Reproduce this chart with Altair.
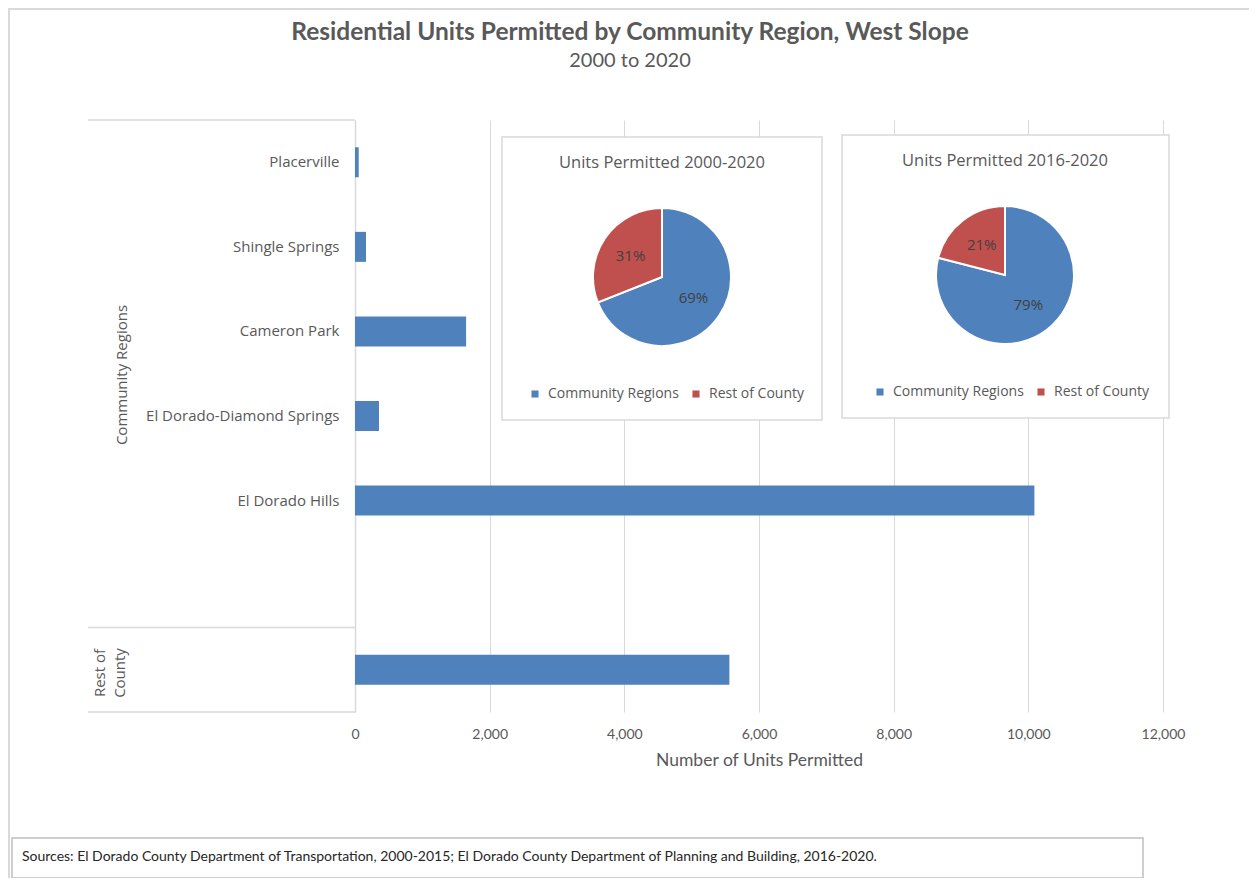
import altair as alt
import pandas as pd

# ---------------- data ----------------
regions = ["Placerville", "Shingle Springs", "Cameron Park",
           "El Dorado-Diamond Springs", "El Dorado Hills", "Rest of County"]
units = [55, 163, 1650, 356, 10090, 5560]
gap_slot = "(gap)"
y_order = regions[:5] + [gap_slot] + ["Rest of County"]
x_ticks = [0, 2000, 4000, 6000, 8000, 10000, 12000]

pie_categories = ["Community Regions", "Rest of County"]
pie1_share = [69, 31]
pie2_share = [79, 21]
pie_colors = ["#4F81BD", "#C0504D"]

title_text = "Residential Units Permitted by Community Region, West Slope"
subtitle_text = "2000 to 2020"
pie1_title = "Units Permitted 2000-2020"
pie2_title = "Units Permitted 2016-2020"
group_labels = ["Community Regions", "Rest of County"]
source_text = ("Sources:  El Dorado County Department of Transportation, 2000-2015; "
               "El Dorado County Department of Planning and Building, 2016-2020.")

bar_df = pd.DataFrame({"region": regions, "units": units})
pie1_df = pd.DataFrame({"cat_a": pie_categories, "share": pie1_share,
                        "idx": [0, 1], "label": [f"{v}%" for v in pie1_share]})
pie2_df = pd.DataFrame({"cat_b": pie_categories, "share": pie2_share,
                        "idx": [0, 1], "label": [f"{v}%" for v in pie2_share]})
one = pd.DataFrame({"k": [0]})

GRAY = "#595959"
LINE = "#D9D9D9"
W, H = 808, 592

y_scale = alt.Scale(domain=y_order, paddingInner=0, paddingOuter=0)

# ---------------- bar chart ----------------
bars = alt.Chart(bar_df).mark_bar(color="#4F81BD", size=30).encode(
    x=alt.X("units:Q",
            scale=alt.Scale(domain=[0, 12000], nice=False),
            axis=alt.Axis(values=x_ticks, format=",.0f", grid=True, gridColor=LINE,
                          gridWidth=1, domain=False, ticks=False, labelPadding=15,
                          labelFlush=False,
                          labelFont="Lato", labelFontSize=14, labelColor=GRAY,
                          title="Number of Units Permitted", titleFont="Lato",
                          titleFontSize=17.5, titleFontWeight="normal", titleColor=GRAY,
                          titlePadding=10)),
    y=alt.Y("region:N", scale=y_scale,
            axis=alt.Axis(title=None, ticks=False, domainColor=LINE, domainWidth=1.5,
                          labelPadding=16, labelFont="Open Sans", labelFontSize=15,
                          labelColor=GRAY, labelLimit=300,
                          labelExpr=f"(datum.value == 'Rest of County' || datum.value == '{gap_slot}') ? '' : datum.value")),
)

# category group separators (left of axis), positioned via the band scale
sep_top = alt.Chart(pd.DataFrame({"region": ["Placerville", "Rest of County"]})).mark_rule(
    color=LINE, strokeWidth=1.5).encode(
    y=alt.Y("region:N", scale=y_scale, bandPosition=0),
    x=alt.value(-267), x2=alt.value(0))
sep_bottom = alt.Chart(pd.DataFrame({"region": ["Rest of County"]})).mark_rule(
    color=LINE, strokeWidth=1.5).encode(
    y=alt.Y("region:N", scale=y_scale, bandPosition=1),
    x=alt.value(-267), x2=alt.value(0))

grp1 = alt.Chart(pd.DataFrame({"t": [group_labels[0]]})).mark_text(
    angle=270, font="Open Sans", fontSize=15, color=GRAY, align="center", baseline="middle"
).encode(text="t:N", x=alt.value(-233), y=alt.value(255))
grp2 = alt.Chart(pd.DataFrame({"t": [["Rest of", "County"]]})).mark_text(
    angle=270, font="Open Sans", fontSize=15, color=GRAY, align="center",
    baseline="middle", lineHeight=20
).encode(text="t", x=alt.value(-255), y=alt.value(553))

# ---------------- titles / frame ----------------
frame_left = alt.Chart(one).mark_rule(color=LINE, strokeWidth=2).encode(
    x=alt.value(-346), y=alt.value(-112), y2=alt.value(758 + 112))
frame_top = alt.Chart(one).mark_rule(color=LINE, strokeWidth=2).encode(
    x=alt.value(-347), x2=alt.value(W + 86), y=alt.value(-111))

title = alt.Chart(one).mark_text(font="Lato", fontSize=24.5, fontWeight="bold",
                                 color=GRAY, align="center", baseline="middle").encode(
    text=alt.value(title_text), x=alt.value(275), y=alt.value(-87))
subtitle = alt.Chart(one).mark_text(font="Lato", fontSize=20, color=GRAY,
                                    align="center", baseline="middle").encode(
    text=alt.value(subtitle_text), x=alt.value(275), y=alt.value(-59))

footer_box = alt.Chart(one).mark_rect(fill="white", stroke="#BFBFBF", strokeWidth=1.5).encode(
    x=alt.value(-343), x2=alt.value(788), y=alt.value(718), y2=alt.value(758))
footer = alt.Chart(one).mark_text(font="Lato", fontSize=14, color="#262626",
                                  align="left", baseline="middle").encode(
    text=alt.value(source_text), x=alt.value(-333), y=alt.value(737))

# ---------------- pies ----------------
def pie_layers(df, field, box, center, title_pos, title_txt, channel, legend_xy, explicit_domain):
    bx0, bx1, by0, by1 = box
    cx, cy = center
    box_rect = alt.Chart(one).mark_rect(fill="white", stroke=LINE, strokeWidth=1.5).encode(
        x=alt.value(bx0), x2=alt.value(bx1), y=alt.value(by0), y2=alt.value(by1))
    ttl = alt.Chart(one).mark_text(font="Open Sans", fontSize=16.5, color=GRAY,
                                   align="center", baseline="middle").encode(
        text=alt.value(title_txt), x=alt.value(title_pos[0]), y=alt.value(title_pos[1]))
    legend = alt.Legend(orient="none", legendX=legend_xy[0], legendY=legend_xy[1],
                        direction="horizontal", title=None, symbolType="square",
                        symbolSize=50, symbolStrokeWidth=0, labelFont="Open Sans",
                        labelFontSize=14, labelColor=GRAY, columnPadding=10,
                        labelOffset=6, padding=0)
    if explicit_domain:
        sc = alt.Scale(domain=pie_categories, range=pie_colors)
    else:
        sc = alt.Scale(range=pie_colors)
    enc = {channel: (alt.Color if channel == "color" else alt.Fill)(
        f"{field}:N", scale=sc, legend=legend)}
    arc = alt.Chart(df).mark_arc(radius=69, stroke="white", strokeWidth=2).encode(
        theta=alt.Theta("share:Q", stack=True),
        order=alt.Order("idx:Q"),
        x=alt.value(cx), y=alt.value(cy), **enc)
    lab = alt.Chart(df).mark_text(radius=38, font="Open Sans", fontSize=15,
                                  color="#404040").encode(
        theta=alt.Theta("share:Q", stack=True),
        order=alt.Order("idx:Q"),
        detail=f"{field}:N",
        text="label:N",
        x=alt.value(cx), y=alt.value(cy))
    return [box_rect, ttl, arc, lab]

pie1 = pie_layers(pie1_df, "cat_a", (147, 467, 17, 300), (307, 157), (307, 43),
                  pie1_title, "color", (173, 267), True)
pie2 = pie_layers(pie2_df, "cat_b", (487, 814, 15, 298), (650, 155), (650, 41),
                  pie2_title, "fill", (518, 265), False)

chart = alt.layer(
    frame_left, frame_top, bars, sep_top, sep_bottom, grp1, grp2,
    title, subtitle, footer_box, footer, *pie1, *pie2
).properties(
    width=W, height=H,
    padding={"left": 347, "top": 112, "right": 86, "bottom": 166},
    autosize=alt.AutoSizeParams(type="none"),
    background="white",
).resolve_scale(theta="independent").configure_view(stroke=None)

chart.save("out.html", embed_options={"renderer": "svg", "actions": False})
